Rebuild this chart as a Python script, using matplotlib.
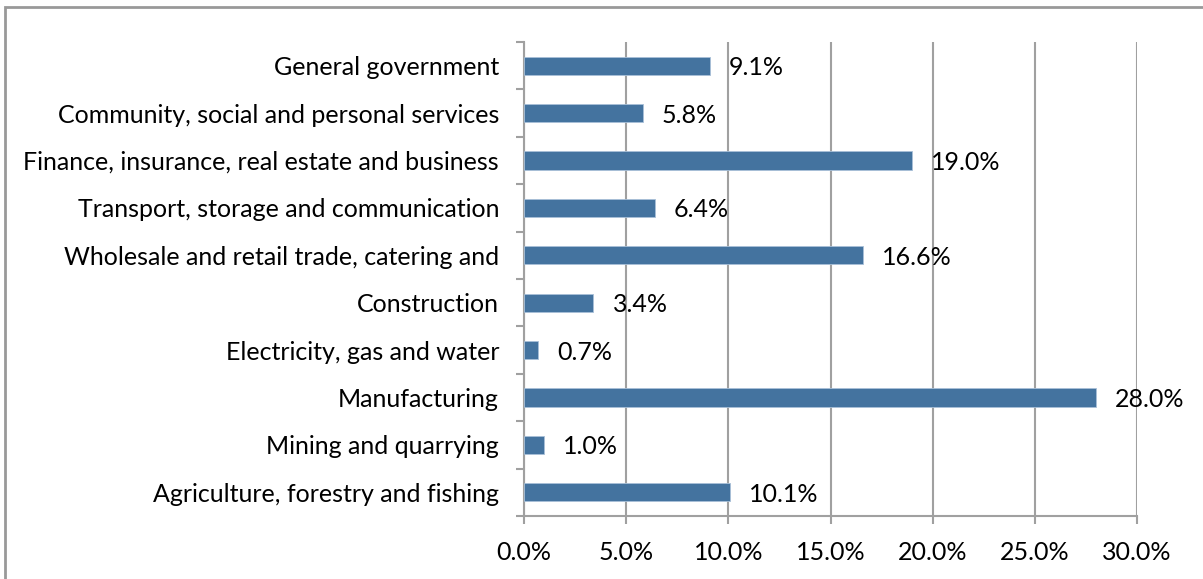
import numpy as np
import matplotlib.pyplot as plt
from matplotlib.patches import Rectangle

plt.rcParams['font.family'] = ['Lato', 'DejaVu Sans']

sectors = ['Agriculture, forestry and fishing',
           'Mining and quarrying',
           'Manufacturing',
           'Electricity, gas and water',
           'Construction',
           'Wholesale and retail trade, catering and',
           'Transport, storage and communication',
           'Finance, insurance, real estate and business',
           'Community, social and personal services',
           'General government']
shares = [10.1, 1.0, 28.0, 0.7, 3.4, 16.6, 6.4, 19.0, 5.8, 9.1]
xticks = [0, 5, 10, 15, 20, 25, 30]

fs = 18
W, H = 1203, 579
fig = plt.figure(figsize=(W/100, H/100), dpi=100)
# axes box in pixels: left 524, right 1137, top 42, bottom 516
ax = fig.add_axes([524/W, 1-516/H, (1137-524)/W, (516-42)/H])

y = np.arange(len(sectors))
ax.barh(y, shares, height=0.38, color='#44739f', edgecolor='#a9c0d8', linewidth=0.6, zorder=3)
for yi, v in zip(y, shares):
    ax.annotate('%.1f%%' % v, (v, yi), xytext=(19, -2), textcoords='offset pixels',
                ha='left', va='center', fontsize=fs, color='black', zorder=4)

ax.set_xlim(0, 30)
ax.set_ylim(-0.5, len(sectors)-0.5)
ax.set_xticks(xticks)
ax.set_xticklabels(['%.1f%%' % t for t in xticks], fontsize=fs)
ax.set_yticks(y)
ax.set_yticklabels(sectors, fontsize=fs)
ax.tick_params(axis='y', length=0, pad=18)
ax.set_yticks(np.arange(-0.5, len(sectors), 1), minor=True)
ax.tick_params(axis='y', which='minor', length=6, width=1.5, color='#a0a0a0')
ax.tick_params(axis='x', length=6, width=1.5, color='#a0a0a0', pad=12)
ax.grid(axis='x', color='#a0a0a0', linewidth=1.5, zorder=0)
for s in ['top', 'right']:
    ax.spines[s].set_visible(False)
for s in ['left', 'bottom']:
    ax.spines[s].set_color('#a0a0a0')
    ax.spines[s].set_linewidth(1.5)

# outer chart border (only top/left visible)
fig.patches.append(Rectangle((5/W, -0.1), 1.2, 1-7/H+0.1, transform=fig.transFigure,
                             fill=False, edgecolor='#999999', linewidth=2))

fig.savefig('out.png', dpi=100)
